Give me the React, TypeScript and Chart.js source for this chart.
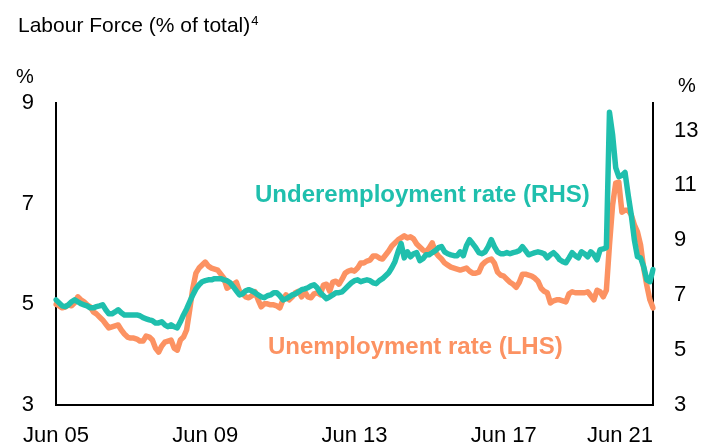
import React, { useEffect, useRef } from "react";
import { Chart, registerables } from "chart.js";

Chart.register(...registerables);

const FONT = "'Liberation Sans', Arial, Helvetica, sans-serif";
const TEAL = "#1fbfad";
const ORANGE = "#fc9262";

const MONTHS = ["Jan", "Feb", "Mar", "Apr", "May", "Jun", "Jul", "Aug", "Sep", "Oct", "Nov", "Dec"];
const START_YEAR = 2005;
const START_MONTH = 5; // June

// Unemployment rate, % (left axis), monthly Jun 2005 - Jun 2021
const unemploymentRate = [
  5.0, 4.97, 4.93, 4.95, 4.99, 4.97, 5.03, 5.15, 5.09, 5.05,
  4.99, 4.95, 4.85, 4.81, 4.75, 4.69, 4.61, 4.53, 4.55, 4.57,
  4.59, 4.49, 4.41, 4.35, 4.33, 4.33, 4.31, 4.27, 4.27, 4.37,
  4.35, 4.29, 4.13, 4.05, 4.17, 4.25, 4.27, 4.29, 4.13, 4.09,
  4.29, 4.35, 4.49, 4.89, 5.32, 5.62, 5.72, 5.78, 5.84, 5.76,
  5.72, 5.7, 5.68, 5.6, 5.52, 5.32, 5.36, 5.4, 5.44, 5.26,
  5.21, 5.15, 5.13, 5.17, 5.25, 5.09, 4.95, 5.01, 5.01, 4.99,
  4.99, 4.97, 4.93, 5.09, 5.19, 5.09, 5.15, 5.23, 5.26, 5.15,
  5.25, 5.15, 5.13, 5.21, 5.23, 5.19, 5.38, 5.4, 5.26, 5.44,
  5.46, 5.4, 5.5, 5.62, 5.66, 5.68, 5.66, 5.72, 5.82, 5.82,
  5.86, 5.88, 5.96, 5.96, 5.92, 5.9, 5.98, 6.06, 6.16, 6.22,
  6.28, 6.32, 6.36, 6.32, 6.34, 6.3, 6.2, 6.14, 6.08, 6.04,
  6.12, 6.22, 6.04, 5.96, 5.9, 5.82, 5.78, 5.74, 5.72, 5.7,
  5.68, 5.7, 5.72, 5.66, 5.62, 5.62, 5.64, 5.78, 5.84, 5.88,
  5.9, 5.82, 5.64, 5.58, 5.56, 5.5, 5.44, 5.4, 5.34, 5.44,
  5.6, 5.6, 5.58, 5.56, 5.52, 5.46, 5.32, 5.26, 5.23, 5.03,
  5.07, 5.09, 5.09, 5.07, 5.05, 5.21, 5.25, 5.23, 5.23, 5.23,
  5.23, 5.25, 5.17, 5.09, 5.28, 5.25, 5.15, 5.28, 6.18, 6.97,
  7.41, 7.43, 6.83, 6.87, 6.87, 6.78, 6.58, 6.44, 6.18, 5.72,
  5.38, 5.09, 4.93,
];

// Underemployment rate, % (right axis), monthly Jun 2005 - Jun 2021
const underemploymentRate = [
  6.83, 6.72, 6.61, 6.58, 6.65, 6.76, 6.83, 6.76, 6.69, 6.65,
  6.61, 6.54, 6.54, 6.58, 6.61, 6.65, 6.47, 6.32, 6.32, 6.39,
  6.47, 6.36, 6.28, 6.28, 6.28, 6.28, 6.28, 6.25, 6.18, 6.14,
  6.1, 6.07, 5.99, 5.99, 6.03, 5.92, 5.85, 5.92, 5.85, 5.81,
  6.03, 6.28, 6.5, 6.76, 7.01, 7.23, 7.38, 7.49, 7.53, 7.56,
  7.56, 7.6, 7.6, 7.6, 7.56, 7.53, 7.45, 7.31, 7.16, 7.01,
  7.05, 7.16, 7.2, 7.16, 7.09, 7.01, 6.94, 6.91, 6.98, 7.01,
  7.09, 7.09, 6.98, 6.83, 6.87, 6.94, 7.01, 7.05, 7.12, 7.2,
  7.23, 7.27, 7.34, 7.38, 7.27, 7.09, 6.98, 6.87, 6.94, 7.01,
  7.09, 7.09, 7.12, 7.23, 7.34, 7.45, 7.53, 7.56, 7.49, 7.53,
  7.56, 7.53, 7.45, 7.42, 7.53, 7.6, 7.71, 7.82, 8.0, 8.22,
  8.58, 8.88, 8.36, 8.58, 8.4, 8.51, 8.55, 8.26, 8.33, 8.47,
  8.47, 8.55, 8.62, 8.73, 8.77, 8.58, 8.51, 8.47, 8.44, 8.44,
  8.58, 8.44, 8.8, 9.02, 8.88, 8.73, 8.55, 8.51, 8.58, 8.77,
  9.02, 8.77, 8.58, 8.51, 8.51, 8.55, 8.51, 8.55, 8.58, 8.62,
  8.77, 8.62, 8.47, 8.51, 8.55, 8.58, 8.55, 8.51, 8.36, 8.47,
  8.55, 8.44, 8.29, 8.22, 8.18, 8.36, 8.55, 8.44, 8.36, 8.58,
  8.51, 8.4, 8.58, 8.47, 8.29, 8.66, 8.69, 8.73, 13.66, 12.85,
  11.65, 11.32, 11.36, 11.47, 10.66, 9.93, 9.02, 8.4, 8.36, 8.04,
  7.56, 7.49, 7.93,
];

const categories = unemploymentRate.map((_, i) => {
  const m = (START_MONTH + i) % 12;
  const y = START_YEAR + Math.floor((START_MONTH + i) / 12);
  return `${MONTHS[m]} ${String(y % 100).padStart(2, "0")}`;
});

const xTickLabels = ["Jun 05", "Jun 09", "Jun 13", "Jun 17", "Jun 21"];
const leftTicks = [3, 5, 7, 9];
const rightTicks = [3, 5, 7, 9, 11, 13];

const TITLE = "Labour Force (% of total)";
const TITLE_NOTE = "4";
const UNDER_LABEL = "Underemployment rate (RHS)";
const UNEMP_LABEL = "Unemployment rate (LHS)";

const overlayPlugin = {
  id: "overlay",
  afterDraw(chart: any) {
    const ctx = chart.ctx as CanvasRenderingContext2D;
    const xs = chart.scales.x;
    const area = chart.chartArea;
    ctx.save();
    ctx.fillStyle = "#000";
    ctx.textBaseline = "alphabetic";
    ctx.textAlign = "left";
    // x tick labels
    ctx.font = `22px ${FONT}`;
    xTickLabels.forEach((lbl) => {
      const idx = categories.indexOf(lbl);
      const px = xs.getPixelForValue(idx);
      const w = ctx.measureText(lbl).width;
      let left = px - w / 2;
      if (left + w > area.right) left = area.right - w;
      ctx.fillText(lbl, left, 442);
    });
    // title
    ctx.font = `21px ${FONT}`;
    ctx.fillText(TITLE, 18, 32);
    const tw = ctx.measureText(TITLE).width;
    ctx.font = `13px ${FONT}`;
    ctx.fillText(TITLE_NOTE, 18 + tw + 1, 25);
    // unit labels
    ctx.font = `20px ${FONT}`;
    ctx.textAlign = "center";
    ctx.textBaseline = "middle";
    ctx.fillText("%", 25, 77);
    ctx.fillText("%", 687, 86);
    // series labels
    ctx.font = `bold 24px ${FONT}`;
    ctx.textAlign = "left";
    ctx.fillStyle = TEAL;
    ctx.fillText(UNDER_LABEL, 255, 195);
    ctx.fillStyle = ORANGE;
    ctx.fillText(UNEMP_LABEL, 268, 347);
    ctx.restore();
  },
};

export default function App() {
  const ref = useRef<HTMLCanvasElement | null>(null);

  useEffect(() => {
    if (!ref.current) return;
    const chart = new Chart(ref.current, {
      type: "line",
      data: {
        labels: categories,
        datasets: [
          {
            label: UNDER_LABEL,
            data: underemploymentRate,
            yAxisID: "y1",
            borderColor: TEAL,
            backgroundColor: TEAL,
            borderWidth: 5.5,
            pointRadius: 0,
            tension: 0,
            borderJoinStyle: "round",
            borderCapStyle: "round",
          },
          {
            label: UNEMP_LABEL,
            data: unemploymentRate,
            yAxisID: "y",
            borderColor: ORANGE,
            backgroundColor: ORANGE,
            borderWidth: 5.5,
            pointRadius: 0,
            tension: 0,
            borderJoinStyle: "round",
            borderCapStyle: "round",
          },
        ],
      },
      options: {
        animation: false,
        responsive: false,
        devicePixelRatio: 1,
        layout: { padding: { top: 103, left: 0, right: 0, bottom: 0 } },
        plugins: {
          legend: { display: false },
          tooltip: { enabled: false },
          title: { display: false },
        },
        scales: {
          x: {
            type: "category",
            offset: false,
            grid: { display: false, drawTicks: false },
            border: { display: true, color: "#000", width: 2 },
            ticks: { display: false },
            afterFit: (s: any) => {
              s.height = 38;
            },
          },
          y: {
            position: "left",
            min: 3,
            max: 9,
            afterBuildTicks: (s: any) => {
              s.ticks = leftTicks.map((v) => ({ value: v }));
            },
            grid: { display: false, drawTicks: false },
            border: { display: true, color: "#000", width: 2 },
            ticks: {
              color: "#000",
              padding: 22,
              font: { family: FONT, size: 22 },
            },
            afterFit: (s: any) => {
              s.width = 56;
            },
          },
          y1: {
            position: "right",
            min: 3,
            max: 14,
            afterBuildTicks: (s: any) => {
              s.ticks = rightTicks.map((v) => ({ value: v }));
            },
            grid: { display: false, drawTicks: false },
            border: { display: true, color: "#000", width: 2 },
            ticks: {
              color: "#000",
              padding: 21,
              font: { family: FONT, size: 22 },
            },
            afterFit: (s: any) => {
              s.width = 54;
            },
          },
        },
      },
      plugins: [overlayPlugin],
    } as any);
    return () => chart.destroy();
  }, []);

  return (
    <div style={{ position: "fixed", left: 0, top: 0, width: 707, height: 443, background: "#fff" }}>
      <canvas ref={ref} width={707} height={443} style={{ display: "block", width: 707, height: 443 }} />
    </div>
  );
}
